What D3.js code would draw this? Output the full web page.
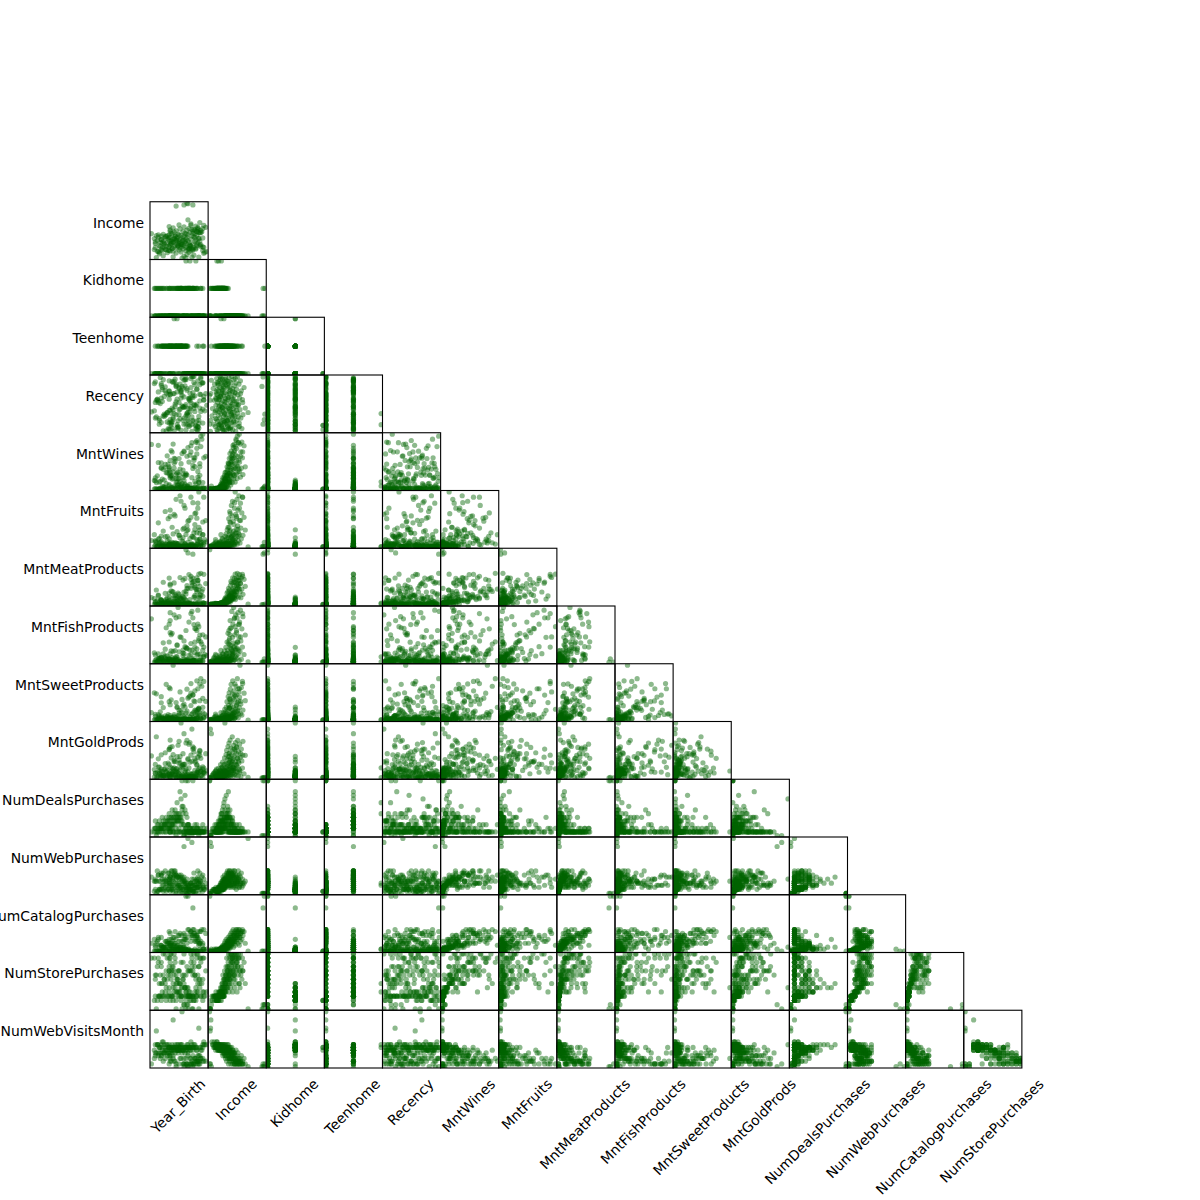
<!DOCTYPE html>
<html>
<head>
<meta charset="utf-8">
<script src="https://cdn.jsdelivr.net/npm/d3@7"></script>
<style>
  body { margin: 0; background: #fff; }
  text { font-family: "DejaVu Sans", sans-serif; font-size: 13.9px; fill: #000; }
</style>
</head>
<body>
<svg id="chart" width="1200" height="1200"></svg>
<script>
// customer records, one value per customer in each column
var yearBirth = [1971,1981,1973,1952,1983,1976,1948,1993,1965,1956, 1978,1970,1996,1947,1962,1980,1975,1958,1957,1982,
  1968,1950,1977,1954,1985,1972,1961,1961,1979,1966, 1951,1944,1983,1969,1958,1953,1992,1963,1949,1955,
  1967,1986,1973,1948,1964,1979,1959,1990,1971,1953, 1982,1966,1944,1975,1960,1987,1970,1956,1978,1949,
  1968,1984,1962,1974,1952,1989,1965,1958,1977,1946, 1972,1985,1961,1950,1969,1980,1957,1975,1943,1963,
  1988,1954,1971,1959,1976,1947,1966,1983,1955,1973, 1950,1981,1964,1945,1970,1986,1958,1977,1952,1967,
  1984,1940,1974,1960,1989,1988,1979,1963,1991,1972, 1986,1982,1965,1990,1976,1959,1987,1983,1969,1992,
  1978,1962,1987,1973,1958,1985,1993,1968,1980,1989, 1977,1965,1975,1977,1976,1982,1973,1962,1988,1945,
  1979,1985,1970,1992,1960,1982,1975,1967,1994,1951, 1958,1975,1990,1963,1984,1981,1968,1956,1946,1972,
  1990,1979,1966,1987,1944,1943,1961,1993,1970,1959, 1951,1954,1974,1988,1947,1980,1965,1948,1995,1977,
  1962,1984,1950,1955,1968,1986,1986,1971,1960,1982, 1953,1978,1964,1989,1981,1959,1967,1980,1958,1992];
var income = [1730,4428,7144,8940,10404,12571,14045,15315,16626,17649, 18690,19740,20491,21359,21994,22634,23272,23951,24594,25176,
  25721,26304,26872,27469,28071,28664,29298,29837,30351,30801, 31535,32173,32632,33051,33812,34421,34867,35178,35860,36634,
  37284,37929,38386,38620,39228,39922,40590,41145,41728,42386, 42973,43602,44159,44794,45321,45938,46423,46984,47531,48070,
  48688,49269,49854,50388,50943,51537,52074,52597,53172,53761, 54237,54809,55357,55914,56481,57045,57611,58152,58710,59235,
  59821,60474,61014,61559,62142,62807,63381,63942,64497,65169, 65808,66476,67131,67809,68462,69109,69821,70503,71232,71952,
  72635,73356,74068,74806,75534,76229,76995,77766,78569,79312, 80134,80950,81702,82546,83475,84302,85175,86111,87063,88012,
  89058,90247,91491,92752,94117,95641,97233,98783,101970,105471, 113734,153924,2447,160803,162397,157243,157146,5648,4861,3502,
  36120,31204,40813,24310,44902,27935,33477,38041,19228,46206, 62430,71870,35540,57910,83920,29120,44380,67550,21740,52980,
  76410,39550,59600,88630,49120,26780,72980,32880,41560,80330, 23810,64980,46890,58420,69930,37120,54450,18950,91820,31960,
  47780,61780,56210,25940,68940,42870,78920,34660,50560,74420, 45980,28430,65690,39960,85430,22290,53760,97980,37880,60790];
var kidhome = [0,0,0,1,1,1,1,0,1,1, 1,1,0,1,0,1,2,1,0,1, 1,1,1,0,2,1,0,1,1,1, 0,1,1,1,0,1,0,1,1,0,
  1,1,1,0,1,1,0,1,1,0, 1,1,0,1,0,1,1,0,1,0, 0,1,0,1,0,0,0,0,1,0, 0,0,0,0,1,0,0,0,0,0,
  0,0,0,0,0,0,0,0,0,0, 0,0,0,0,0,0,0,0,0,0, 0,0,0,0,0,0,0,0,0,0, 0,0,0,0,0,0,0,0,0,0,
  0,0,0,0,0,0,0,0,0,0, 0,0,0,0,1,1,0,1,0,1, 2,1,1,1,1,1,1,1,0,0, 0,0,1,0,0,1,1,0,1,0,
  0,1,0,0,0,1,0,0,1,0, 1,0,1,0,0,1,0,0,0,1, 0,0,0,1,0,1,0,1,0,0, 0,1,0,0,0,1,0,0,1,0];
var teenhome = [0,0,1,0,0,0,0,0,1,0, 0,1,0,0,1,0,0,0,1,0, 1,0,0,1,0,1,1,0,0,1, 1,0,0,1,1,0,0,2,0,1,
  1,0,0,1,1,0,1,0,1,1, 0,2,1,0,1,0,1,1,0,0, 1,0,1,1,1,0,1,1,0,1, 1,0,1,0,1,0,1,1,0,1,
  0,1,1,0,1,0,1,0,1,0, 1,0,1,0,1,0,0,0,1,0, 0,0,1,1,0,1,0,0,0,0, 1,0,1,0,0,1,0,0,0,1,
  0,0,0,0,1,0,1,0,0,0, 0,0,0,0,1,0,0,0,0,0, 0,0,1,0,1,0,1,1,0,1, 1,0,0,1,0,0,1,1,0,1,
  0,0,1,0,0,0,1,0,1,0, 0,0,1,0,1,0,1,0,0,1, 1,0,1,0,1,0,0,1,1,0, 1,0,1,0,0,0,1,0,1,0];
var recency = [65,0,92,28,41,77,13,56,85,34, 9,60,47,71,22,95,3,38,66,18, 52,83,29,73,11,44,90,6,35,58,
  79,24,99,40,15,63,87,32,50,69, 8,76,43,20,94,55,4,36,81,27, 64,12,89,48,33,2,70,17,59,97,
  39,84,25,45,1,67,30,91,19,57, 78,10,42,86,23,61,5,96,37,68, 14,80,46,21,74,52,7,88,31,62,
  16,99,49,26,72,3,58,41,93,19, 64,35,82,12,55,27,69,0,87,44, 76,20,53,98,33,66,8,48,85,15,
  60,39,91,24,73,5,57,30,79,42, 34,81,13,21,31,98,13,68,20,56, 11,46,74,88,17,61,93,5,37,54,
  4,28,66,90,47,13,79,34,58,20, 95,41,71,9,52,86,17,63,2,38, 75,29,93,6,55,44,82,23,68,12,
  88,36,60,1,77,19,49,96,14,70, 31,57,45,84,26,67,8,52,72,40];
var mntWines = [1,16,81,8,5,12,3,22,6,9, 14,2,27,4,32,7,1,11,18,3, 14,6,20,45,2,25,39,9,16,53,
  78,12,5,67,121,19,31,86,23,148, 102,15,244,190,32,128,311,10,156,64, 36,198,305,21,377,47,119,448,13,212,
  286,58,471,143,55,376,192,608,84,363, 518,141,274,712,207,27,681,425,236,839,
  183,594,966,357,381,723,112,849,448,1031, 565,312,823,178,692,957,412,1128,537,281,
  852,1214,374,1049,693,193,921,568,1356,416, 1107,647,292,1438,893,463,1261,781,545,1493,
  734,1224,329,1012,568,1276,849,396,1178,606, 6,1,1,55,85,20,1,7,2,2, 4,8,26,3,51,5,17,38,13,271,
  520,390,11,702,610,7,143,903,2,312, 1156,24,436,480,225,3,1008,38,61,780, 9,670,119,262,1190,13,388,6,890,36,
  294,210,590,5,830,29,1320,48,355,560, 248,4,751,72,1260,1,461,1010,92,180];
var mntFruits = [1,4,4,1,6,0,11,9,1,3, 2,0,18,5,6,2,0,10,1,7, 0,3,4,12,1,3,0,16,2,7, 2,19,1,4,13,6,44,1,3,8,
  0,9,2,31,1,5,14,0,3,8, 2,0,23,6,1,11,4,38,0,16, 5,1,47,12,0,28,3,9,62,2, 18,4,71,0,33,9,102,2,44,13,
  6,128,21,3,59,87,11,34,1,150, 39,8,112,17,165,26,4,93,57,12, 81,23,140,7,49,199,30,118,15,64,
  104,37,172,10,76,133,22,51,185,44, 96,14,158,68,29,123,180,42,107,61, 0,1,1,16,1,2,0,0,1,1, 0,2,1,3,0,1,4,2,26,12,
  8,45,5,3,63,12,2,22,0,34, 17,0,55,140,6,1,9,17,0,110, 4,37,10,71,28,2,14,14,95,1,
  4,120,19,2,42,9,51,0,8,160, 2,6,15,28,38,0,11,180,1,90];
var mntMeatProducts = [3,12,33,11,14,9,17,38,6,19, 12,4,43,13,28,10,5,21,15,12, 7,16,23,32,8,16,29,27,14,34,
  40,25,11,22,46,30,61,24,19,53, 35,12,67,72,21,48,16,20,97,81, 26,52,95,142,18,63,188,104,45,158,
  77,237,29,156,42,209,98,365,67,121, 243,97,412,146,194,512,88,337,191,276, 456,120,264,74,598,303,211,728,165,397,
  141,683,322,459,176,841,248,512,702,366, 587,218,823,431,304,957,158,682,412,769, 397,836,274,981,512,648,765,239,851,487,
  944,398,672,217,833,487,951,325,794,576, 15,1,1725,1622,16,1582,1,6,1,1, 8,11,15,7,21,9,13,18,42,83,
  130,420,24,98,540,18,41,210,6,120, 305,20,178,760,72,9,186,52,17,612, 14,355,47,232,280,16,95,31,660,13,
  82,290,152,11,240,28,470,21,108,710, 64,12,198,63,590,4,122,890,29,260];
var mntFishProducts = [1,2,5,3,10,2,19,25,0,7, 4,0,32,8,11,6,3,15,2,10, 0,4,6,20,2,5,3,23,0,12, 4,35,3,7,18,9,57,2,6,13,
  3,0,17,6,11,2,40,4,0,23, 8,26,1,13,54,3,10,0,33,19, 2,71,15,6,40,0,27,96,12,5, 58,10,137,24,3,89,16,150,45,7,
  112,30,4,197,67,18,80,9,163,41, 21,240,55,13,118,36,180,7,92,259, 47,205,74,130,11,168,58,224,86,32,
  150,19,210,97,65,234,40,178,120,8, 190,52,246,101,15,158,72,215,37,129, 3,1,1,17,2,1,1,1,1,0, 3,2,0,4,2,1,6,3,38,15,
  12,70,9,4,95,14,3,31,2,44, 25,0,83,180,10,0,12,28,2,140, 6,62,8,102,40,3,17,19,120,2,
  6,160,22,4,50,12,64,0,11,210, 5,7,20,39,58,1,14,230,2,130];
var mntSweetProducts = [1,4,2,0,3,1,8,14,0,5, 2,1,20,3,4,2,0,7,1,6, 0,11,2,9,1,3,0,12,2,5, 8,18,1,4,10,6,36,0,2,7,
  1,7,0,20,4,14,2,9,35,0, 12,3,28,0,9,51,5,17,1,40, 24,6,0,62,11,33,2,88,19,4, 7,45,13,112,0,70,26,3,131,18,
  56,2,99,22,148,9,64,38,171,15, 83,29,4,126,47,188,12,105,60,20, 140,36,8,97,173,52,115,27,162,69,
  18,121,84,198,43,150,11,92,135,61, 110,263,30,77,156,24,185,48,129,93, 0,1,1,3,1,2,1,0,0,0, 1,3,1,2,0,1,3,2,29,10,
  6,35,3,2,48,5,1,15,0,23, 11,2,60,150,4,1,9,12,0,74, 3,20,6,58,26,1,12,16,90,0,
  3,88,18,1,33,8,41,1,7,120, 2,4,13,22,30,0,9,175,1,104];
var mntGoldProds = [1,321,291,18,12,24,30,36,5,16, 9,2,47,13,58,11,4,22,26,9, 7,15,41,63,4,19,34,27,8,45, 17,30,6,52,88,14,33,67,11,42,
  12,38,5,71,20,104,9,44,26,57, 31,2,89,17,132,48,362,14,66,23, 95,7,153,40,28,181,60,11,121,36, 74,19,207,45,142,3,98,230,56,117,
  34,166,81,249,10,126,62,197,41,89, 152,22,108,271,67,33,186,128,13,215, 50,145,91,24,176,61,233,106,18,160,
  84,204,39,129,248,70,15,171,100,57, 222,46,137,9,190,112,65,241,28,149, 5,1,1,4,2,1,1,2,1,1, 3,6,10,5,12,8,14,20,31,43,
  22,60,15,18,130,22,27,52,3,89, 44,7,140,38,33,6,65,40,14,201, 10,95,48,160,72,9,29,45,160,19,
  24,105,58,5,118,21,88,12,41,190, 16,11,47,66,110,2,36,150,30,73];
var numDealsPurchases = [15,0,0,1,2,1,2,1,1,3, 1,1,2,1,3,2,1,2,2,1, 2,1,3,4,1,3,3,2,1,4, 3,2,1,5,4,2,1,6,2,5,
  6,2,3,4,7,2,4,1,8,3, 2,9,4,2,5,2,10,4,3,2, 6,3,5,11,4,1,6,5,3,3, 8,1,7,2,12,1,4,6,2,5,
  1,3,7,1,5,2,4,1,3,1, 3,1,4,1,5,1,1,1,2,1, 1,1,2,2,1,2,1,1,1,1, 3,1,2,1,1,2,1,1,1,3,
  1,1,1,1,2,1,2,1,1,1, 1,0,15,15,0,15,0,1,0,0, 1,1,3,1,3,1,2,4,1,5, 3,1,2,4,1,2,5,2,1,6,
  1,2,5,1,2,1,3,1,4,1, 2,1,7,1,3,1,5,1,1,3, 4,1,2,1,4,2,1,4,5,1, 3,1,3,1,1,1,5,1,6,1];
var numWebPurchases = [0,25,23,1,1,2,2,2,1,2, 1,1,3,1,2,2,1,2,2,1, 1,2,3,3,1,2,3,2,2,3, 4,2,1,4,5,2,3,4,2,5,
  4,3,6,6,5,2,8,2,6,7, 2,5,7,3,9,3,7,4,3,6, 7,3,8,5,4,10,9,6,4,11, 7,6,4,9,8,5,10,3,6,11,
  5,11,8,4,7,9,3,10,6,8, 9,4,11,6,9,5,7,3,10,8, 4,8,6,11,3,7,5,9,8,2, 7,4,9,6,5,8,11,7,3,9,
  4,6,8,5,10,3,7,4,5,6, 27,0,0,0,0,0,0,1,0,0, 1,1,2,1,2,1,2,2,2,7, 7,5,2,9,6,2,5,8,1,6,
  5,2,8,3,6,1,11,3,3,5, 2,6,4,5,9,2,7,2,5,2, 7,4,10,1,9,3,6,3,6,4, 6,1,10,4,7,1,8,5,4,4];
var numCatalogPurchases = [0,0,1,0,0,0,0,1,0,0, 0,0,1,0,1,0,0,0,0,0, 0,0,0,1,0,0,1,0,0,1, 1,0,0,1,1,0,1,1,0,2,
  1,0,2,2,1,0,3,0,1,2, 0,1,3,1,4,0,2,5,1,3, 2,1,3,6,2,4,1,4,1,5, 3,5,2,7,2,5,4,1,6,4,
  6,2,8,3,4,7,2,9,5,6, 3,7,10,4,5,8,6,11,2,8, 9,4,8,6,10,3,9,7,11,5, 8,11,6,10,7,4,10,11,9,3,
  11,7,5,9,10,6,11,8,10,4, 0,0,28,28,0,22,0,0,0,0, 0,0,0,0,1,0,0,0,0,2, 3,6,0,3,8,0,1,4,0,2,
  5,0,3,7,2,0,5,1,1,9, 0,5,1,4,6,0,2,0,9,0, 2,5,3,0,5,0,7,1,3,8, 2,0,4,1,8,0,3,10,1,4];
var numStorePurchases = [0,0,1,3,2,3,3,3,2,3, 3,2,4,3,3,2,2,3,3,3, 3,2,3,4,2,3,3,3,3,4, 4,3,2,4,5,3,4,4,3,5,
  4,3,6,6,5,4,8,3,5,7, 3,6,7,4,9,4,5,7,4,8, 6,4,10,5,8,12,6,9,5,10, 7,5,9,11,6,13,8,4,12,9,
  10,6,8,13,5,12,7,11,9,13, 6,10,12,8,11,4,12,9,13,7, 8,12,5,13,7,10,9,13,6,11, 12,9,4,11,10,12,8,13,6,12,
  9,5,13,8,10,7,12,9,11,6, 0,0,0,1,1,0,1,2,0,0, 2,3,3,2,3,3,3,3,3,6, 9,8,3,8,10,3,4,12,2,7,
  12,3,7,6,8,2,10,4,3,11, 3,13,5,7,11,3,8,3,9,3, 6,8,10,2,9,3,13,3,7,8, 7,3,11,5,12,2,9,9,4,7];
var numWebVisitsMonth = [20,1,0,9,8,8,7,9,7,8, 7,6,8,8,7,9,7,8,7,6, 7,8,8,7,7,6,6,8,7,7, 6,8,7,7,7,8,7,7,7,6,
  8,6,7,5,8,7,4,6,8,5, 7,8,5,6,7,4,8,6,7,3, 6,8,4,7,5,2,6,7,5,8, 6,3,7,4,8,1,5,6,3,7,
  2,6,5,3,7,4,6,1,5,3, 4,7,2,5,3,6,1,4,2,5, 3,1,5,2,4,1,3,2,6,1, 2,4,1,3,1,5,2,1,3,2,
  1,3,2,1,4,1,2,1,3,1, 0,0,1,0,1,0,1,17,14,13, 6,7,6,8,6,7,7,6,8,7, 5,3,7,6,2,8,7,4,8,6,
  3,7,6,1,4,6,5,8,7,2, 9,3,7,4,5,6,7,7,2,6, 6,3,5,8,6,7,2,7,6,1, 5,7,5,7,2,7,6,1,7,3];

var columns = ["Year_Birth", "Income", "Kidhome", "Teenhome", "Recency", "MntWines", "MntFruits",
  "MntMeatProducts", "MntFishProducts", "MntSweetProducts", "MntGoldProds", "NumDealsPurchases",
  "NumWebPurchases", "NumCatalogPurchases", "NumStorePurchases", "NumWebVisitsMonth"];
var series = [yearBirth, income, kidhome, teenhome, recency, mntWines, mntFruits, mntMeatProducts,
  mntFishProducts, mntSweetProducts, mntGoldProds, numDealsPurchases, numWebPurchases,
  numCatalogPurchases, numStorePurchases, numWebVisitsMonth];

function scatterMatrix() {
  var marginLeft = 150, marginTop = 144;
  var n = columns.length;
  var cw = 930 / n, ch = 924 / n;
  var idx = d3.range(yearBirth.length);

  var svg = d3.select("#chart");

  // each variable: its own extent plus 2.5% padding on both sides
  var domains = series.map(function(v) {
    var ext = d3.extent(v);
    var pad = (ext[1] - ext[0]) * 0.025;
    return [ext[0] - pad, ext[1] + pad];
  });

  svg.append("defs").append("clipPath").attr("id", "cellclip")
    .append("rect").attr("width", cw).attr("height", ch);

  // lower triangle only, diagonal left empty
  for (var i = 1; i < n; i++) {
    for (var j = 0; j < i; j++) {
      var x = d3.scaleLinear().domain(domains[j]).range([0, cw]);
      var y = d3.scaleLinear().domain(domains[i]).range([ch, 0]);
      var g = svg.append("g")
        .attr("transform", "translate(" + (marginLeft + j * cw) + "," + (marginTop + i * ch) + ")");
      var xs = series[j], ys = series[i];
      g.append("g")
        .attr("clip-path", "url(#cellclip)")
        .selectAll("circle")
        .data(idx)
        .join("circle")
        .attr("cx", function(k) { return x(xs[k]); })
        .attr("cy", function(k) { return y(ys[k]); })
        .attr("r", 2.6)
        .attr("fill", "#006400")
        .attr("fill-opacity", 0.45);
      g.append("rect")
        .attr("width", cw)
        .attr("height", ch)
        .attr("fill", "none")
        .attr("stroke", "#000")
        .attr("stroke-width", 1.1);
    }
  }

  // row labels on the left
  for (var i = 1; i < n; i++) {
    svg.append("text")
      .attr("x", 144)
      .attr("y", marginTop + (i + 0.5) * ch - 3)
      .attr("text-anchor", "end")
      .text(columns[i]);
  }

  // column labels, rotated 45 degrees
  for (var j = 0; j < n - 1; j++) {
    var t = svg.append("text")
      .attr("text-anchor", "end")
      .text(columns[j]);
    var L = t.node().getComputedTextLength();
    var ex = marginLeft + (j + 0.5) * cw + 0.3535 * (L + 7);
    t.attr("transform", "translate(" + ex + ",1085) rotate(-45)");
  }
}

scatterMatrix();
</script>
</body>
</html>
